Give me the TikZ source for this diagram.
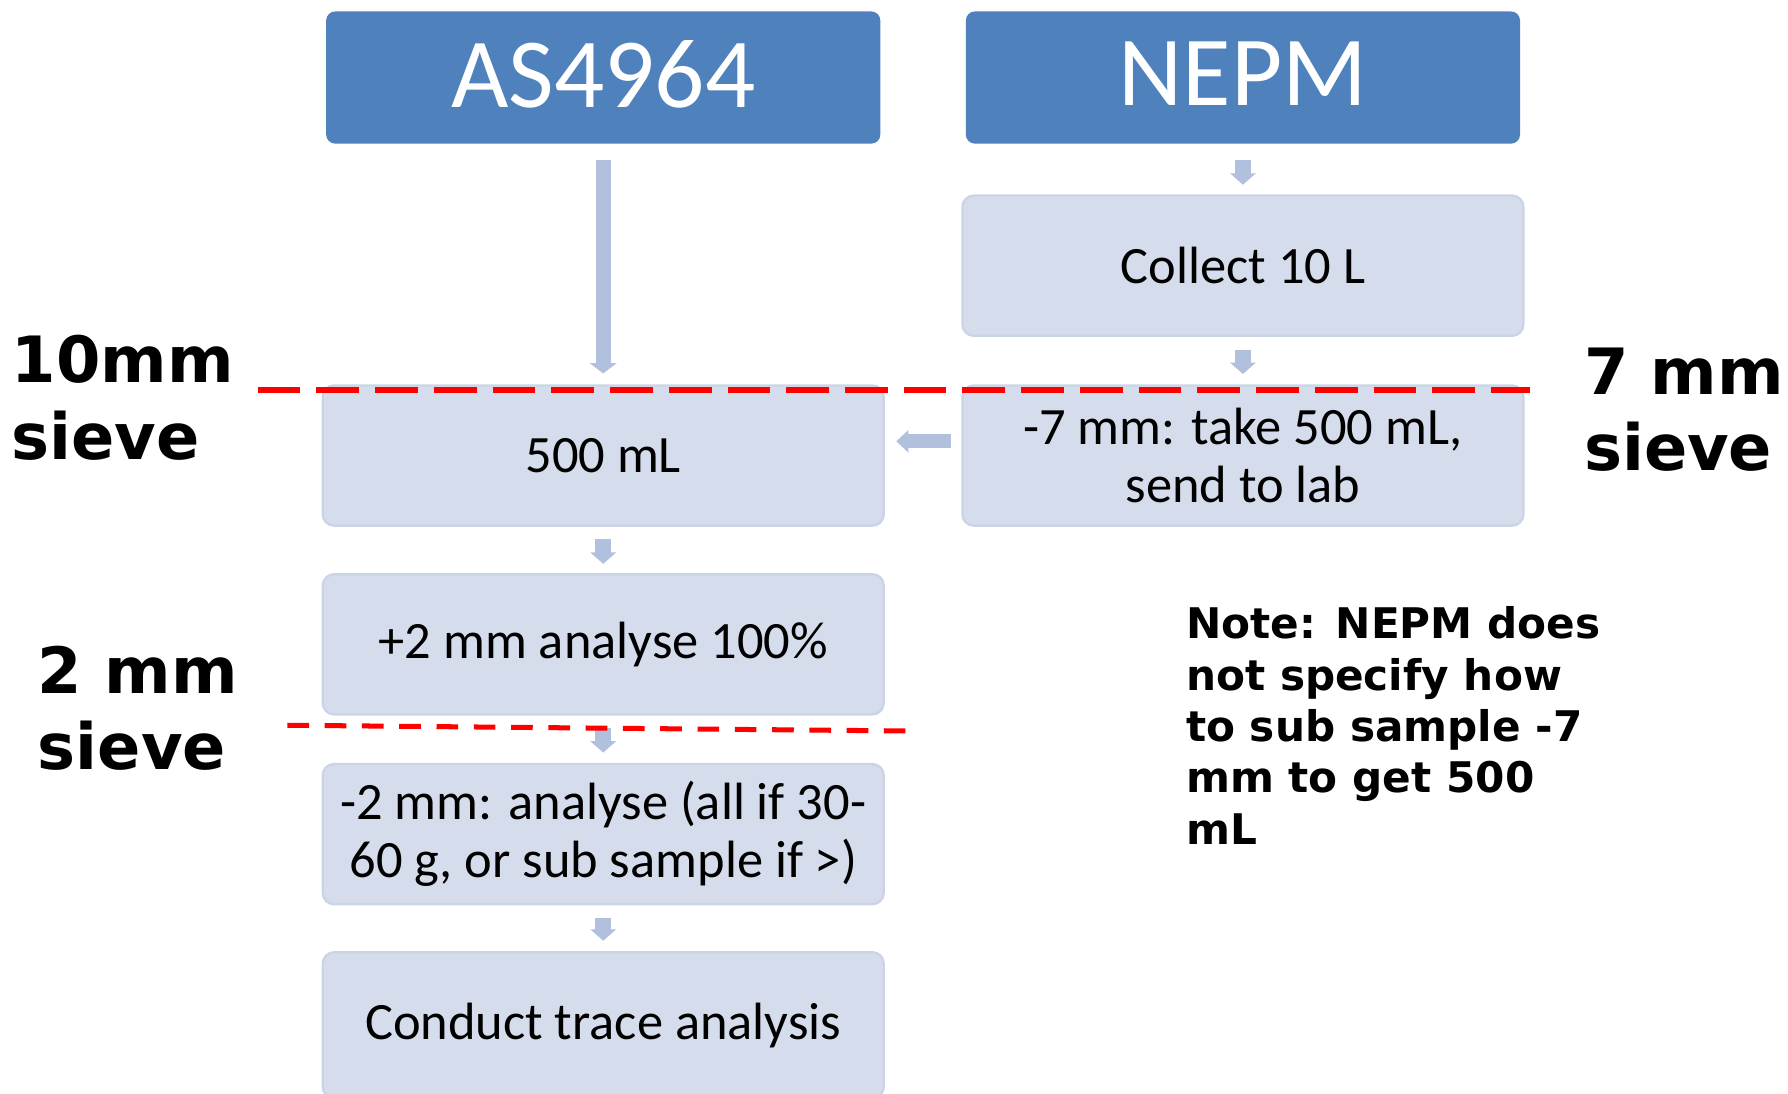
\documentclass[tikz,border=0pt]{standalone}
\usepackage{fontspec}
\setmainfont{Carlito}
\newfontfamily\dejavu{DejaVu Sans}
\usetikzlibrary{arrows.meta}
\definecolor{titleblue}{RGB}{79,129,189}
\definecolor{lightbox}{RGB}{213,220,235}
\definecolor{lightedge}{RGB}{203,212,230}
\definecolor{arrowc}{RGB}{176,192,221}
\definecolor{sievered}{RGB}{255,0,0}
\tikzset{
  titlebox/.style={fill=titleblue, rounded corners=8pt, minimum width=486pt, minimum height=116pt,
    inner sep=0pt, text=white, text depth=7pt, font=\fontsize{87}{90}\selectfont},
  stepbox/.style={fill=lightbox, draw=lightedge, line width=2pt, rounded corners=10pt,
    minimum width=492pt, minimum height=123pt, inner sep=0pt, align=center,
    font=\fontsize{46}{51}\selectfont},
  flow/.style={draw=arrowc, line width=14pt, -{Triangle[width=22pt,length=10pt]}},
  sideflow/.style={draw=arrowc, line width=12.6pt, -{Triangle[width=19pt,length=10.5pt]}},
  bigflow/.style={draw=arrowc, line width=13.5pt, -{Triangle[width=23pt,length=9pt]}},
  sievelbl/.style={font=\dejavu\bfseries\fontsize{56}{67}\selectfont, align=left, inner sep=0pt, anchor=north west},
  notelbl/.style={font=\dejavu\bfseries\fontsize{37}{45}\selectfont, align=left, inner sep=0pt, anchor=north west},
  sieveline/.style={draw=sievered, line width=5pt},
}
\begin{document}
\begin{tikzpicture}[x=1pt,y=-1pt]
\useasboundingbox (0,0) rectangle (1568,959);
% title boxes
\node[titlebox] (as) at (529,68) {AS4964};
\node[titlebox] (nepm) at (1090,68) {NEPM};
% step boxes
\node[stepbox] (collect) at (1090,233) {Collect 10 L};
\node[stepbox] (m500) at (529,399.5) {500 mL};
\node[stepbox] (m7) at (1090,399.5) {-7 mm: take 500 mL,\\send to lab};
\node[stepbox] (p2) at (529,565) {+2 mm analyse 100\%};
\node[stepbox] (m2) at (529,731.5) {-2 mm: analyse (all if 30-\\60 g, or sub sample if >)};
\node[stepbox, minimum height=128pt] (trace) at (529,899) {Conduct trace analysis};
% connectors
\draw[bigflow, shorten <=14pt, shorten >=9.5pt] (as) -- (m500);
\draw[flow, shorten <=14pt, shorten >=8.5pt] (nepm) -- (collect);
\draw[flow, shorten <=11pt, shorten >=9pt] (collect) -- (m7);
\draw[sideflow, shorten <=9pt, shorten >=10pt] ([yshift=12.5pt]m7.west) -- ([yshift=12.5pt]m500.east);
\draw[flow, shorten <=11pt, shorten >=8pt] (m500) -- (p2);
\draw[flow, shorten <=11pt, shorten >=9pt] (p2) -- (m2);
\draw[flow, shorten <=11pt, shorten >=9pt] (m2) -- (trace);
% sieve lines
\draw[sieveline, dash pattern=on 37.5pt off 14pt] (226,342) -- (1342,342);
\draw[sieveline, line width=4.4pt, dash pattern=on 19pt off 13.7pt] (252,636) -- (794,641);
% labels
\node[sievelbl] (lab10) at (10,294) {10mm\\sieve};
\node[sievelbl] (lab7) at (1389,305) {7 mm\\sieve};
\node[sievelbl] (lab2) at (33,566) {2 mm\\sieve};
\node[notelbl] (note) at (1040,532) {Note: NEPM does\\not specify how\\to sub sample -7\\mm to get 500\\mL};
\end{tikzpicture}
\end{document}
